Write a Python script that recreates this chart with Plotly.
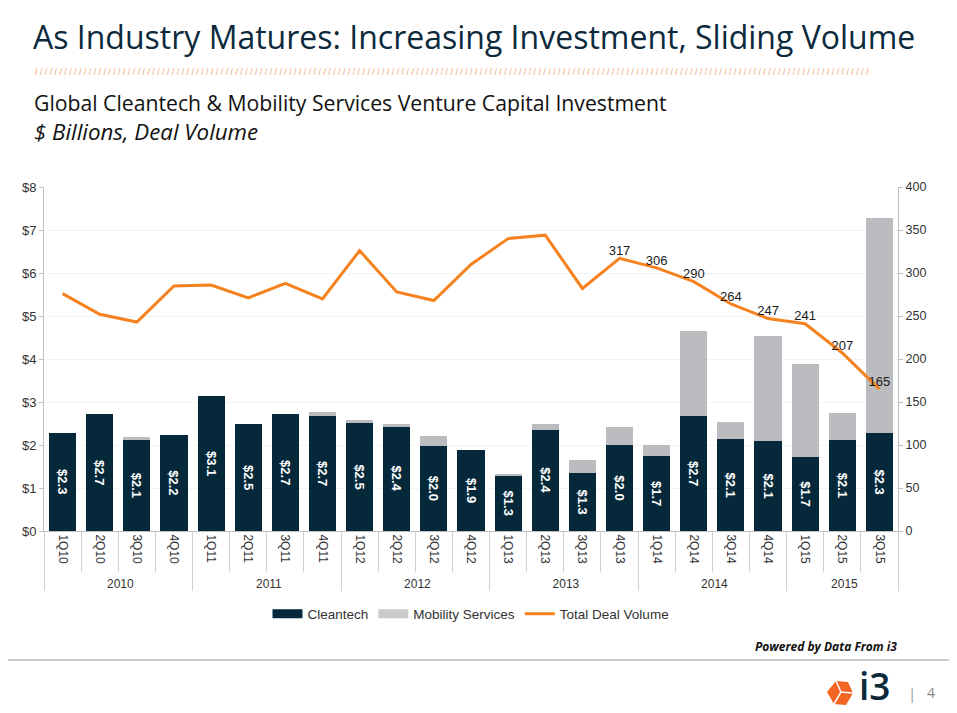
import plotly.graph_objects as go
from plotly.subplots import make_subplots

# ---------------- data ----------------
years = ["2010"] * 4 + ["2011"] * 4 + ["2012"] * 4 + ["2013"] * 4 + ["2014"] * 4 + ["2015"] * 3
quarters = ["1Q10", "2Q10", "3Q10", "4Q10",
            "1Q11", "2Q11", "3Q11", "4Q11",
            "1Q12", "2Q12", "3Q12", "4Q12",
            "1Q13", "2Q13", "3Q13", "4Q13",
            "1Q14", "2Q14", "3Q14", "4Q14",
            "1Q15", "2Q15", "3Q15"]
cleantech = [2.29, 2.71, 2.12, 2.24,
             3.13, 2.48, 2.71, 2.67,
             2.51, 2.44, 1.98, 1.88,
             1.29, 2.36, 1.34, 2.00,
             1.74, 2.67, 2.13, 2.09,
             1.72, 2.12, 2.27]
mobility = [0.00, 0.00, 0.07, 0.00,
            0.00, 0.00, 0.00, 0.10,
            0.07, 0.04, 0.23, 0.00,
            0.04, 0.12, 0.32, 0.41,
            0.25, 1.99, 0.40, 2.45,
            2.17, 0.63, 5.00]
deal_volume = [276, 252, 243, 285,
               286, 271, 288, 270,
               326, 278, 268, 310,
               340, 344, 282, 317,
               306, 290, 264, 247,
               241, 207, 165]
labelled_from = 15  # deal counts are labelled from 4Q13 onward

# ---------------- styling ----------------
NAVY = "#05283a"
GRAY = "#babcbf"
ORANGE = "#f5821f"
AXFONT = "Liberation Sans, Arial, sans-serif"
HEADFONT = "Open Sans, sans-serif"

# page body has an 8px default margin -> figure starts at (8, 8) of the window
OFF = 8
W, H = 957 - OFF, 713 - OFF
X0, X1, Y0, Y1 = 44, 898, 187, 531   # plot area in window pixels


def px(x):
    return (x - X0) / (X1 - X0)


def py(y):
    return (Y1 - y) / (Y1 - Y0)


fig = make_subplots(specs=[[{"secondary_y": True}]])

fig.add_trace(go.Bar(
    x=[years, quarters], y=cleantech, name="Cleantech", showlegend=False,
    marker=dict(color=NAVY, line=dict(width=0)),
    text=[f"${v:.1f}" for v in cleantech],
    textposition="inside", insidetextanchor="middle", textangle=90,
    textfont=dict(family=AXFONT, size=13, color="white", weight="bold"),
    constraintext="none",
), secondary_y=False)

fig.add_trace(go.Bar(
    x=[years, quarters], y=mobility, name="Mobility Services", showlegend=False,
    marker=dict(color=GRAY, line=dict(width=0)),
), secondary_y=False)

line_text = ["" if i < labelled_from else str(v) for i, v in enumerate(deal_volume)]
fig.add_trace(go.Scatter(
    x=[years, quarters], y=deal_volume, name="Total Deal Volume", showlegend=False,
    mode="lines+text", text=line_text, textposition="top center",
    textfont=dict(family=AXFONT, size=13, color="#1a1a1a"),
    line=dict(color=ORANGE, width=3),
), secondary_y=True)

# legend keys (wide rectangles like the original)
for name, color, width in [("Cleantech", NAVY, 9), ("Mobility Services", "#c9cacc", 9),
                           ("Total Deal Volume", ORANGE, 3)]:
    fig.add_trace(go.Scatter(x=[None], y=[None], mode="lines", name=name,
                             line=dict(color=color, width=width)), secondary_y=False)

fig.update_layout(
    width=W, height=H,
    barmode="stack", bargap=0.27,
    plot_bgcolor="white", paper_bgcolor="white",
    margin=dict(l=X0 - OFF, r=957 - X1, t=Y0 - OFF, b=713 - Y1, autoexpand=False),
    showlegend=True,
    legend=dict(orientation="h", x=0.5, xanchor="center", y=py(614), yanchor="middle",
                font=dict(family=AXFONT, size=13.5, color="#333333"),
                traceorder="normal", itemwidth=30),
    font=dict(family=AXFONT, color="#333333"),
)

fig.update_xaxes(
    type="multicategory", tickangle=90, domain=[0, 1],
    range=[-0.5, len(quarters) - 0.5], autorange=False,
    tickfont=dict(family=AXFONT, size=12, color="#333333"),
    showline=True, linecolor="#bfbfbf", linewidth=1,
    ticks="outside", ticklen=40, tickcolor="#d0d0d0", tickson="boundaries",
    showdividers=True, dividercolor="#d0d0d0", dividerwidth=1,
    showgrid=False,
)
fig.update_yaxes(
    range=[0, 8], dtick=1, tickprefix="$", secondary_y=False,
    tickfont=dict(family=AXFONT, size=13, color="#333333"),
    showline=True, linecolor="#bfbfbf", linewidth=1,
    ticks="outside", ticklen=4, tickcolor="#bfbfbf",
    showgrid=True, gridcolor="#f3f3f3", zeroline=False,
)
fig.update_yaxes(
    range=[0, 400], dtick=50, secondary_y=True,
    tickfont=dict(family=AXFONT, size=12.5, color="#333333"),
    showline=True, linecolor="#bfbfbf", linewidth=1,
    ticks="outside", ticklen=4, tickcolor="#bfbfbf",
    showgrid=False, zeroline=False,
)

annotations = [
    dict(text="As Industry Matures: Increasing Investment, Sliding Volume",
         x=px(31), y=py(36), xanchor="left", yanchor="middle",
         font=dict(family=HEADFONT, size=32, color="#0d2a3d")),
    dict(text="/ " * 171,
         x=px(33), y=py(72), xanchor="left", yanchor="middle",
         font=dict(family=AXFONT, size=8.8, color="#f4a570")),
    dict(text="Global Cleantech &amp; Mobility Services Venture Capital Investment",
         x=px(32), y=py(102), xanchor="left", yanchor="middle",
         font=dict(family=HEADFONT, size=21.2, color="#111111")),
    dict(text="<i>$ Billions, Deal Volume</i>",
         x=px(32), y=py(132), xanchor="left", yanchor="middle",
         font=dict(family=HEADFONT, size=22.3, color="#111111")),
    dict(text="<b><i>Powered by Data From i3</i></b>",
         x=px(899), y=py(646), xanchor="right", yanchor="middle",
         font=dict(family=HEADFONT, size=12, color="#111111")),
    dict(text="i3",
         x=px(857), y=py(712.5), xanchor="left", yanchor="bottom",
         font=dict(family=HEADFONT, size=37, color="#0d2a3d", weight=600)),
    dict(text="|", x=px(912), y=py(693), xanchor="center", yanchor="middle",
         font=dict(family=HEADFONT, size=15, color="#9a9a9a")),
    dict(text="4", x=px(931), y=py(692), xanchor="center", yanchor="middle",
         font=dict(family=HEADFONT, size=14, color="#8a8a8a")),
]
for a in annotations:
    a.update(xref="paper", yref="paper", showarrow=False)
fig.update_layout(annotations=annotations)

# footer rule and logo icon (cube-like hexagon)
shapes = [
    dict(type="line", xref="paper", yref="paper",
         x0=px(0), x1=px(957), y0=py(660), y1=py(660),
         line=dict(color="#cccccc", width=2)),
    dict(type="path", xref="paper", yref="paper",
         path=(f"M {px(827)} {py(692)} L {px(836)} {py(681)} L {px(848)} {py(682)} "
               f"L {px(853)} {py(693)} L {px(846)} {py(705)} L {px(834)} {py(704)} Z"),
         fillcolor="#f26522", line=dict(width=0)),
    dict(type="path", xref="paper", yref="paper",
         path=(f"M {px(836)} {py(681)} L {px(841)} {py(692)} L {px(853)} {py(693)} "
               f"M {px(841)} {py(692)} L {px(834)} {py(704)}"),
         line=dict(color="white", width=1.5)),
]
fig.update_layout(shapes=shapes)

fig.write_html("out.html")
